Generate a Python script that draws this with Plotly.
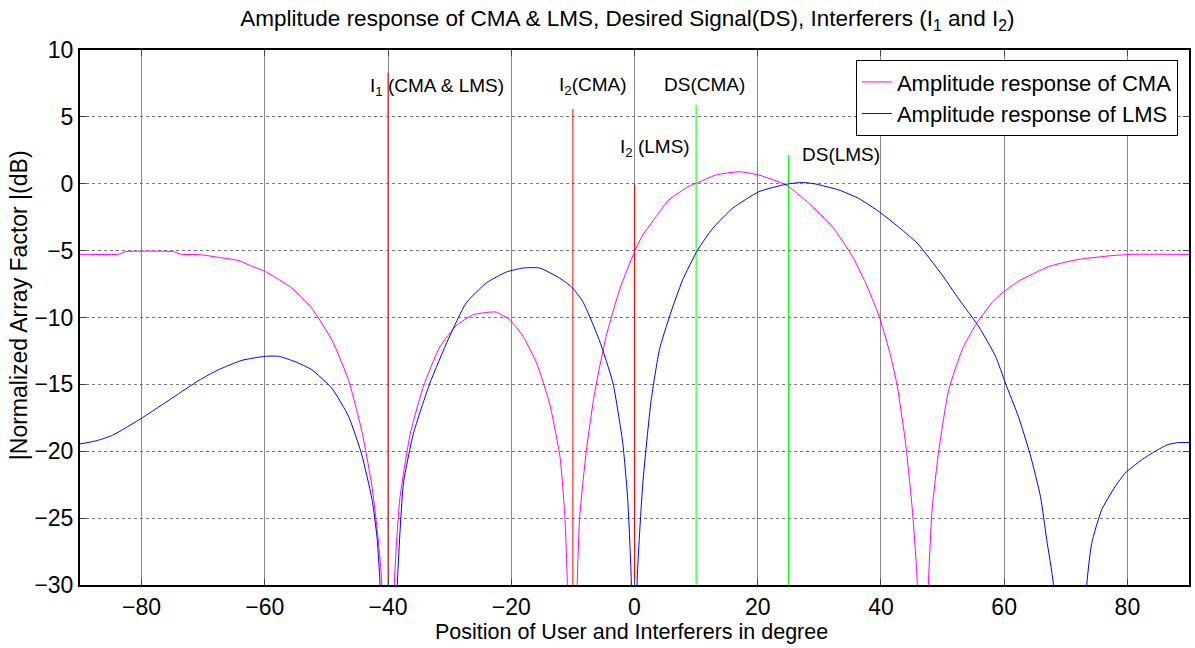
import plotly.graph_objects as go

# ---------------- data ----------------
cma_x = [-90, -83.7, -82.6, -74.8, -73.7, -70.7, -67.5, -64.2, -62.6, -59.9, -57.8, -55.6,
         -52.4, -49.1, -46.4, -44.3, -42.6, -41.6, -41.0, -40.0, -39.0, -38.1, -36.4, -34.3,
         -31.6, -28.9, -26.2, -23.5, -22.4, -20.2, -18.1, -15.9, -13.8, -12.1, -11.3, -10.9,
         -10.1, -9.3, -8.9, -7.8, -6.5, -4.6, -2.4, 0, 1.35, 3.5, 5.6, 8.9, 10.0, 13.2, 17.0,
         20.2, 24.6, 28.3, 32.1, 35.4, 37.5, 39.7, 41.3, 42.6, 44.0, 45.1, 45.9, 46.8, 47.7,
         48.3, 49.4, 51.0, 53.2, 55.3, 58.0, 59.6, 62.3, 67.2, 71.5, 76.9, 80.7, 90]
cma_y = [-5.27, -5.27, -5.08, -5.08, -5.27, -5.3, -5.5, -5.75, -6.07, -6.57, -7.15, -7.8,
         -9.3, -11.7, -14.7, -18.4, -22.65, -26.6, -30, -60, -30, -23.6, -18.7, -15.2,
         -12.2, -10.6, -9.8, -9.6, -9.6, -10.2, -11.4, -13.4, -16.4, -20.4, -24.9, -29.9,
         -60, -30, -24.9, -19.9, -15.7, -11.4, -7.9, -5.08, -3.83, -2.46, -1.2, -0.17, 0.03, 0.65, 0.9,
         0.65, -0.09, -1.46, -3.2, -5.45, -7.4, -9.9, -12.4, -15.0, -19.4, -24.4, -29.9, -60, -30,
         -24.4, -19.9, -15.4, -12.4, -10.6, -8.9, -8.2, -7.3, -6.2, -5.7, -5.4, -5.28, -5.28]

lms_x = [-90, -87.2, -84.7, -79.9, -76.6, -74.0, -70.7, -67.5, -63.7, -59.9, -57.8, -55.1,
         -52.4, -49.1, -46.4, -44.3, -42.6, -41.8, -41.3, -40.0, -38.5, -37.5, -35.9, -33.2,
         -30.2, -27.3, -24.0, -20.8, -18.1, -15.4, -12.1, -10.25, -8.4, -5.7, -3.5, -1.9, -1.1,
         -0.5, 0.0, 0.4, 1.35, 2.7, 4.05, 5.7, 7.8, 10.25, 12.7, 15.9, 20.2, 24.6, 27.3, 29.4,
         33.2, 36.4, 39.7, 42.9, 45.9, 49.9, 52.6, 55.9, 58.6, 60.2, 62.3, 64.2, 65.9, 66.9,
         68.0, 70.7, 73.4, 74.2, 75.8, 78.0, 79.6, 82.3, 84.5, 86.6, 88.3, 90]
lms_y = [-19.45, -19.2, -18.8, -17.5, -16.5, -15.7, -14.7, -13.9, -13.2, -12.9, -12.9, -13.3,
         -13.9, -15.3, -17.4, -20.2, -23.6, -26.4, -30, -60, -30, -22.4, -18.7, -14.9,
         -11.6, -8.9, -7.4, -6.6, -6.3, -6.3, -7.07, -7.7, -8.8, -11.7, -14.9, -19.4, -23.6,
         -30, -60, -30, -22.4, -16.2, -12.4, -9.9, -7.2, -4.95, -3.33, -1.84, -0.59, -0.04, 0.1, -0.02,
         -0.47, -1.1, -2.09, -3.25, -4.45, -6.8, -8.6, -10.7, -12.9, -14.9, -17.4, -20.2, -23.4, -26.6,
         -30, -60, -30, -26.9, -24.4, -22.65, -21.65, -20.65, -20.0, -19.5, -19.35, -19.35]

# marker lines: position (deg) and top value (dB)
interferer_pos = [-40, -10, 0]
interferer_top = [8.3, 5.6, 0.0]
desired_pos = [10, 25]
desired_top = [5.9, 2.15]

marker_labels = ["I<sub>1</sub> (CMA & LMS)", "I<sub>2</sub>(CMA)", "I<sub>2</sub> (LMS)",
                 "DS(CMA)", "DS(LMS)"]
label_x = [-43.3, -12.5, -2.7, 11.4, 33.5]
label_y = [7.2, 7.3, 2.7, 7.4, 2.15]
label_anchor = ["left", "left", "left", "center", "center"]

x_ticks = [-80, -60, -40, -20, 0, 20, 40, 60, 80]
y_ticks = [-30, -25, -20, -15, -10, -5, 0, 5, 10]

FONT = "Liberation Sans, Arial, sans-serif"

fig = go.Figure()

for p, t in zip(interferer_pos, interferer_top):
    fig.add_trace(go.Scatter(x=[p, p], y=[-30, t], mode="lines",
                             line=dict(color="#ff0000", width=1),
                             showlegend=False, hoverinfo="skip"))
for p, t in zip(desired_pos, desired_top):
    fig.add_trace(go.Scatter(x=[p, p], y=[-30, t], mode="lines",
                             line=dict(color="#00ff00", width=1),
                             showlegend=False, hoverinfo="skip"))

fig.add_trace(go.Scatter(x=cma_x, y=cma_y, mode="lines",
                         line=dict(color="#ff00ff", width=1, shape="spline", smoothing=0.5),
                         name="Amplitude response of CMA"))
fig.add_trace(go.Scatter(x=lms_x, y=lms_y, mode="lines",
                         line=dict(color="#0000ff", width=1, shape="spline", smoothing=0.5),
                         name="Amplitude response of LMS"))

for txt, lx, ly, anc in zip(marker_labels, label_x, label_y, label_anchor):
    fig.add_annotation(x=lx, y=ly, xref="x", yref="y", text=txt, showarrow=False,
                       xanchor=anc, yanchor="middle",
                       font=dict(family=FONT, size=19, color="black"))

fig.add_annotation(x=0.497, y=-0.088, xref="paper", yref="paper",
                   text="Position of User and Interferers in degree", showarrow=False,
                   xanchor="center", yanchor="middle",
                   font=dict(family=FONT, size=21.5, color="black"))
fig.add_annotation(x=-0.055, y=0.523, xref="paper", yref="paper",
                   text="|Normalized Array Factor |(dB)", showarrow=False, textangle=-90,
                   xanchor="center", yanchor="middle",
                   font=dict(family=FONT, size=23, color="black"))

fig.update_layout(
    width=1195, height=648,
    margin=dict(l=80, r=4, t=50, b=63),
    paper_bgcolor="white", plot_bgcolor="white",
    font=dict(family=FONT, color="black"),
    title=dict(text="Amplitude response of CMA & LMS, Desired Signal(DS), Interferers (I<sub>1</sub> and I<sub>2</sub>)",
               x=0.525, xanchor="center", y=1 - 18 / 648, yanchor="middle", yref="container",
               font=dict(family=FONT, size=22.5, color="black")),
    legend=dict(x=0.990, y=0.981, xanchor="right", yanchor="top",
                bgcolor="white", bordercolor="black", borderwidth=1,
                font=dict(family=FONT, size=22, color="black")),
    showlegend=True,
)

fig.update_xaxes(range=[-90, 90], tickvals=x_ticks, ticks="inside", ticklen=6,
                 showline=True, linecolor="black", linewidth=2, mirror="ticks",
                 showgrid=True, gridcolor="#8a8a8a", gridwidth=1, griddash="solid",
                 zeroline=False, tickfont=dict(family=FONT, size=23, color="black"))
fig.update_yaxes(range=[-30, 10], tickvals=y_ticks, ticks="inside", ticklen=6,
                 showline=True, linecolor="black", linewidth=2, mirror="ticks",
                 showgrid=True, gridcolor="#7a7a7a", gridwidth=1, griddash="dot",
                 zeroline=False, tickfont=dict(family=FONT, size=23, color="black"))

fig.write_html("out.html", config={"displayModeBar": False},
               post_script="document.body.style.margin='0';document.body.style.padding='0';")
